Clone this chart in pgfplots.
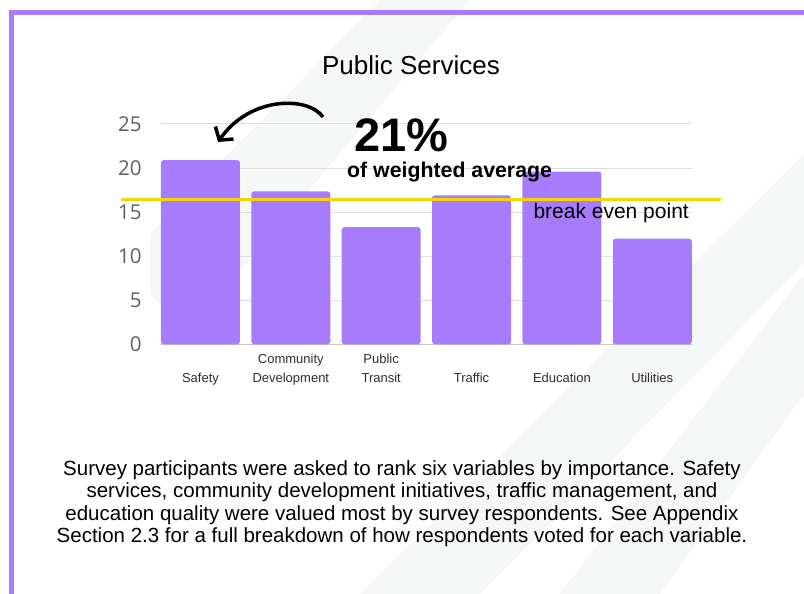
\documentclass[border=0pt]{standalone}
\usepackage{pgfplots}
\pgfplotsset{compat=1.18}
\usepackage{fontspec}
\setmainfont{Liberation Sans}
\newfontfamily\tickfont{Open Sans}
\usetikzlibrary{arrows.meta}
\definecolor{barpurple}{RGB}{166,123,252}
\definecolor{framepurple}{RGB}{169,124,255}
\definecolor{yline}{RGB}{246,212,10}
\definecolor{bggray}{RGB}{245,246,246}
\definecolor{tickgray}{RGB}{95,95,95}
\definecolor{catgray}{RGB}{45,45,45}
\begin{document}
\begin{tikzpicture}[x=1bp,y=1bp]
\path[use as bounding box] (0,0) rectangle (804,594);
% faint background bands
\fill[bggray] (380,594) -- (470,594) -- (190,264) -- (150,300) -- (150,360) -- cycle;
\fill[bggray] (360,0) -- (480,0) -- (804,330) -- (804,440) -- cycle;
\fill[bggray] (560,0) -- (660,0) -- (804,200) -- (804,320) -- cycle;
% frame
\draw[framepurple, line width=5bp] (11.5,-5) -- (11.5,581) -- (810,581);
\begin{axis}[
  at={(178,283)}, anchor=south west,
  scale only axis, width=531bp, height=220.5bp,
  xmin=-0.438, xmax=5.438, ymin=0, ymax=25,
  ybar, bar width=79bp,
  clip=false,
  separate axis lines,
  axis x line*=bottom, axis y line*=left,
  x axis line style={draw={rgb,255:red,200;green,200;blue,200}, line width=0.8bp},
  y axis line style={draw=none},
  tick style={draw=none},
  major tick length=0pt,
  ytick={0,5,10,15,20,25},
  ymajorgrids,
  grid style={draw={rgb,255:red,222;green,222;blue,222}, line width=0.8bp},
  /pgf/number format/assume math mode=true,
  yticklabel style={font=\tickfont\fontsize{20.5bp}{20.5bp}\selectfont, text=tickgray, anchor=east, inner sep=0pt, xshift=-19bp},
  xtick={0,1,2,3,4,5},
  xticklabels={{\strut\\\strut Safety},{\strut Community\\\strut Development},{\strut Public\\\strut Transit},{\strut\\\strut Traffic},{\strut\\\strut Education},{\strut\\\strut Utilities}},
  xticklabel style={font=\fontsize{13bp}{19bp}\selectfont, text=catgray, align=center, anchor=north, inner sep=0pt, yshift=-6bp},
]
\addplot[fill=barpurple, draw=none, rounded corners=3bp] coordinates {(0,20.9) (1,17.35) (2,13.3) (3,16.9) (4,19.6) (5,12.0)};
\addplot[sharp plot, yline, line width=3bp, forget plot] coordinates {(-0.882,16.47) (5.759,16.47)};
\end{axis}
% title
\node[anchor=base, inner sep=0pt, font=\fontsize{26bp}{30bp}\selectfont] at (411,519) {Public Services};
% annotation
\node[anchor=base west, inner sep=0pt, font=\bfseries\fontsize{47bp}{50bp}\selectfont] at (354,442) {21\%};
\node[anchor=base west, inner sep=0pt, font=\bfseries\fontsize{21.3bp}{24bp}\selectfont] at (347,416) {of weighted average};
\node[anchor=base east, inner sep=0pt, font=\fontsize{21bp}{24bp}\selectfont] at (689,375) {break even point};
\draw[line width=3.5bp, -{Straight Barb[length=9bp,width=22bp]}] (323,477) .. controls (308,498) and (250,498) .. (218,452);
% body text
\node[anchor=north, inner sep=0pt, align=center, font=\fontsize{20.5bp}{22.5bp}\selectfont] at (402,594-460) {Survey participants were asked to rank six variables by importance. Safety\\services, community development initiatives, traffic management, and\\education quality were valued most by survey respondents. See Appendix\\Section 2.3 for a full breakdown of how respondents voted for each variable.};
\end{tikzpicture}
\end{document}
